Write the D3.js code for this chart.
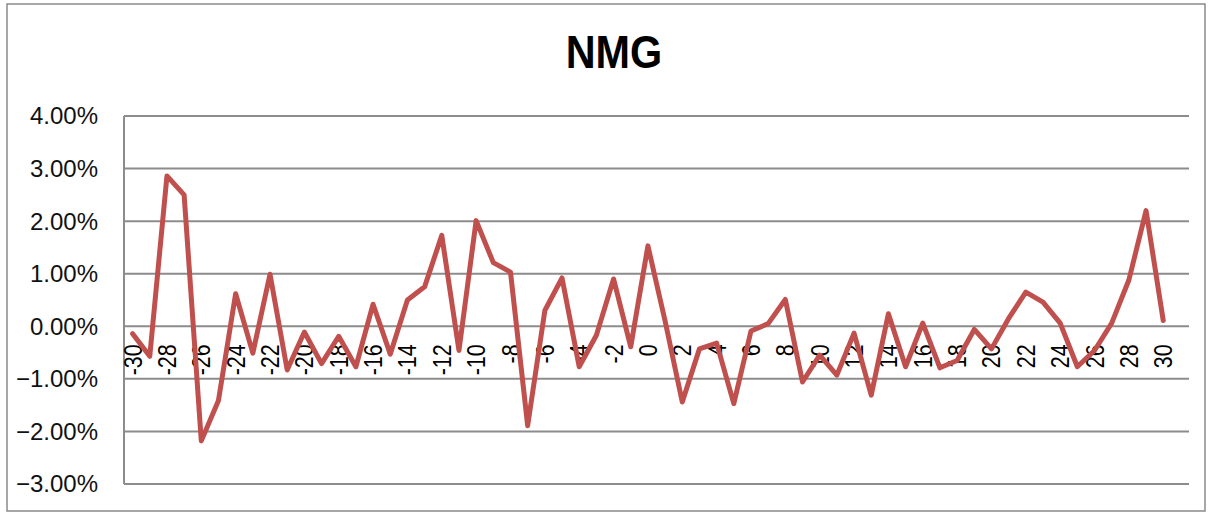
<!DOCTYPE html>
<html>
<head>
<meta charset="utf-8">
<script src="https://cdn.jsdelivr.net/npm/d3@7"></script>
<style>
  body { margin: 0; background: #fff; }
  svg { display: block; }
</style>
</head>
<body>
<svg id="chart"></svg>
<script>
// event days (x categories)
const days = [
  -30, -29, -28, -27, -26, -25, -24, -23, -22, -21, -20, -19, -18, -17, -16,
  -15, -14, -13, -12, -11, -10, -9, -8, -7, -6, -5, -4, -3, -2, -1,
  0, 1, 2, 3, 4, 5, 6, 7, 8, 9, 10, 11, 12, 13, 14,
  15, 16, 17, 18, 19, 20, 21, 22, 23, 24, 25, 26, 27, 28, 29, 30
];

// NMG returns, in percent
const returns = [
  -0.14, -0.57, 2.86, 2.50, -2.18, -1.41, 0.62, -0.51, 0.99, -0.83, -0.11, -0.71, -0.19, -0.77, 0.42,
  -0.53, 0.50, 0.75, 1.73, -0.46, 2.01, 1.21, 1.03, -1.89, 0.30, 0.92, -0.77, -0.17, 0.90, -0.39,
  1.53, 0.10, -1.44, -0.43, -0.32, -1.47, -0.09, 0.05, 0.51, -1.06, -0.55, -0.93, -0.13, -1.31, 0.24,
  -0.77, 0.06, -0.79, -0.65, -0.06, -0.43, 0.15, 0.65, 0.46, 0.06, -0.77, -0.46, 0.06, 0.88, 2.20, 0.11
];

const yTicks = [-3, -2, -1, 0, 1, 2, 3, 4];
const xTickDays = days.filter((d) => d % 2 === 0);

const W = 1210, H = 513;
const plot = { left: 124, top: 116, right: 1189, bottom: 484 };

const svg = d3.select("#chart").attr("width", W).attr("height", H);

// outer chart border
svg.append("rect")
  .attr("x", 7).attr("y", 4)
  .attr("width", 1198).attr("height", 507)
  .attr("fill", "#fff")
  .attr("stroke", "#8a8a8a")
  .attr("stroke-width", 1.5);

// title
svg.append("text")
  .attr("x", 614).attr("y", 68)
  .attr("text-anchor", "middle")
  .style("font-family", "'Liberation Sans', Arial, sans-serif")
  .style("font-weight", "bold")
  .style("font-size", "46px")
  .attr("transform", "translate(614,0) scale(0.9,1) translate(-614,0)")
  .text("NMG");

// x: one empty slot is left after day 30, like the original
const x = d3.scaleLinear()
  .domain([days[0] - 0.5, days[days.length - 1] + 1.5])
  .range([plot.left, plot.right]);

const y = d3.scaleLinear()
  .domain([-3, 4])
  .range([plot.bottom, plot.top]);

// gridlines
svg.append("g")
  .selectAll("line")
  .data(yTicks)
  .join("line")
  .attr("x1", plot.left).attr("x2", plot.right)
  .attr("y1", (d) => y(d)).attr("y2", (d) => y(d))
  .attr("stroke", "#8c8c8c")
  .attr("stroke-width", 2);

// left axis line
svg.append("line")
  .attr("x1", plot.left).attr("x2", plot.left)
  .attr("y1", plot.top).attr("y2", plot.bottom)
  .attr("stroke", "#8c8c8c")
  .attr("stroke-width", 2);

// y labels
svg.append("g")
  .selectAll("text")
  .data(yTicks)
  .join("text")
  .attr("x", 98)
  .attr("y", (d) => y(d))
  .attr("dy", "0.35em")
  .attr("text-anchor", "end")
  .style("font-family", "'Liberation Sans', Arial, sans-serif")
  .style("font-size", "24px")
  .attr("fill", "#111")
  .text((d) => d3.format(".2f")(d) + "%");

// x labels, rotated, hanging just under the zero line (slightly condensed)
svg.append("g")
  .selectAll("text")
  .data(xTickDays)
  .join("text")
  .attr("transform", (d) => `translate(${x(d)},${y(0) + 18}) rotate(-90) scale(0.86,1)`)
  .attr("dy", "0.36em")
  .attr("text-anchor", "end")
  .style("font-family", "'Liberation Sans', Arial, sans-serif")
  .style("font-size", "25px")
  .attr("fill", "#000")
  .text((d) => d);

// the line
const line = d3.line()
  .x((d, i) => x(days[i]))
  .y((d) => y(d));

svg.append("path")
  .datum(returns)
  .attr("fill", "none")
  .attr("stroke", "#c0504d")
  .attr("stroke-width", 5)
  .attr("stroke-linejoin", "round")
  .attr("stroke-linecap", "round")
  .attr("d", line);
</script>
</body>
</html>
